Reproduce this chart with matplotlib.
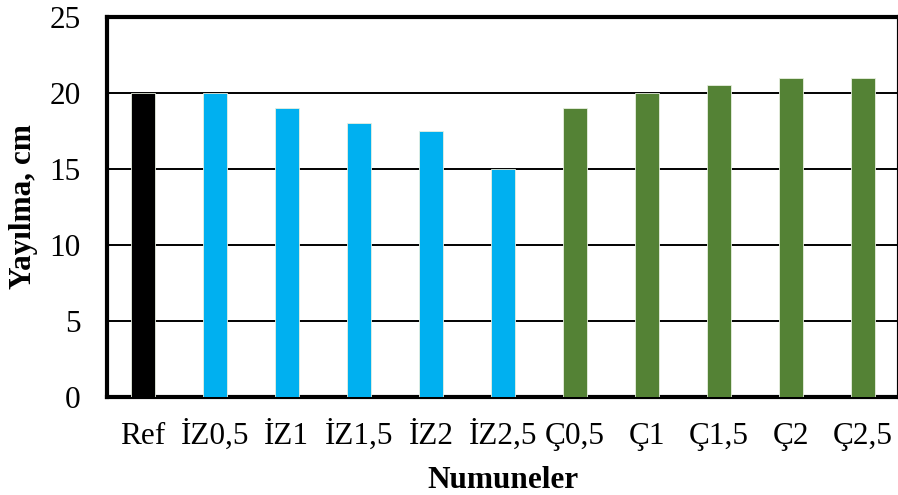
import matplotlib
matplotlib.use("Agg")
import matplotlib.pyplot as plt

categories = ["Ref", "İZ0,5", "İZ1", "İZ1,5", "İZ2", "İZ2,5",
              "Ç0,5", "Ç1", "Ç1,5", "Ç2", "Ç2,5"]
values = [20, 20, 19, 18, 17.5, 15, 19, 20, 20.5, 21, 21]
bar_colors = ["#000000"] + ["#00B0F0"] * 5 + ["#548235"] * 5
y_ticks = [0, 5, 10, 15, 20, 25]

plt.rcParams["font.family"] = ["Liberation Serif", "DejaVu Serif"]
FS = 22.5

fig = plt.figure(figsize=(8.98, 4.95), dpi=100)
ax = fig.add_axes([0.119, 0.198, 0.882, 0.768])

x = list(range(len(categories)))
ax.bar(x, values, width=0.33, color=bar_colors, edgecolor="#e8efe0",
       linewidth=0.6, zorder=3)

ax.set_xlim(-0.5, len(categories) - 0.5)
ax.set_ylim(0, 25)
ax.set_yticks(y_ticks)
ax.set_xticks(x)
ax.set_xticklabels(categories)
ax.tick_params(axis="both", length=0, labelsize=FS)
ax.tick_params(axis="x", pad=34)
ax.tick_params(axis="y", pad=19)
for lab in ax.get_xticklabels():
    lab.set_verticalalignment("baseline")

for v in y_ticks[1:-1]:
    ax.axhline(v, color="black", linewidth=1.4, zorder=1)

for s in ax.spines.values():
    s.set_linewidth(3)
    s.set_color("black")

ax.set_ylabel("Yayılma, cm", fontsize=FS, fontweight="bold", va="center")
ax.yaxis.set_label_coords(-0.105, 0.5)
ax.set_xlabel("Numuneler", fontsize=FS, fontweight="bold", va="baseline")
ax.xaxis.set_label_coords(0.5, -0.239)

fig.savefig("out.png", dpi=100)
